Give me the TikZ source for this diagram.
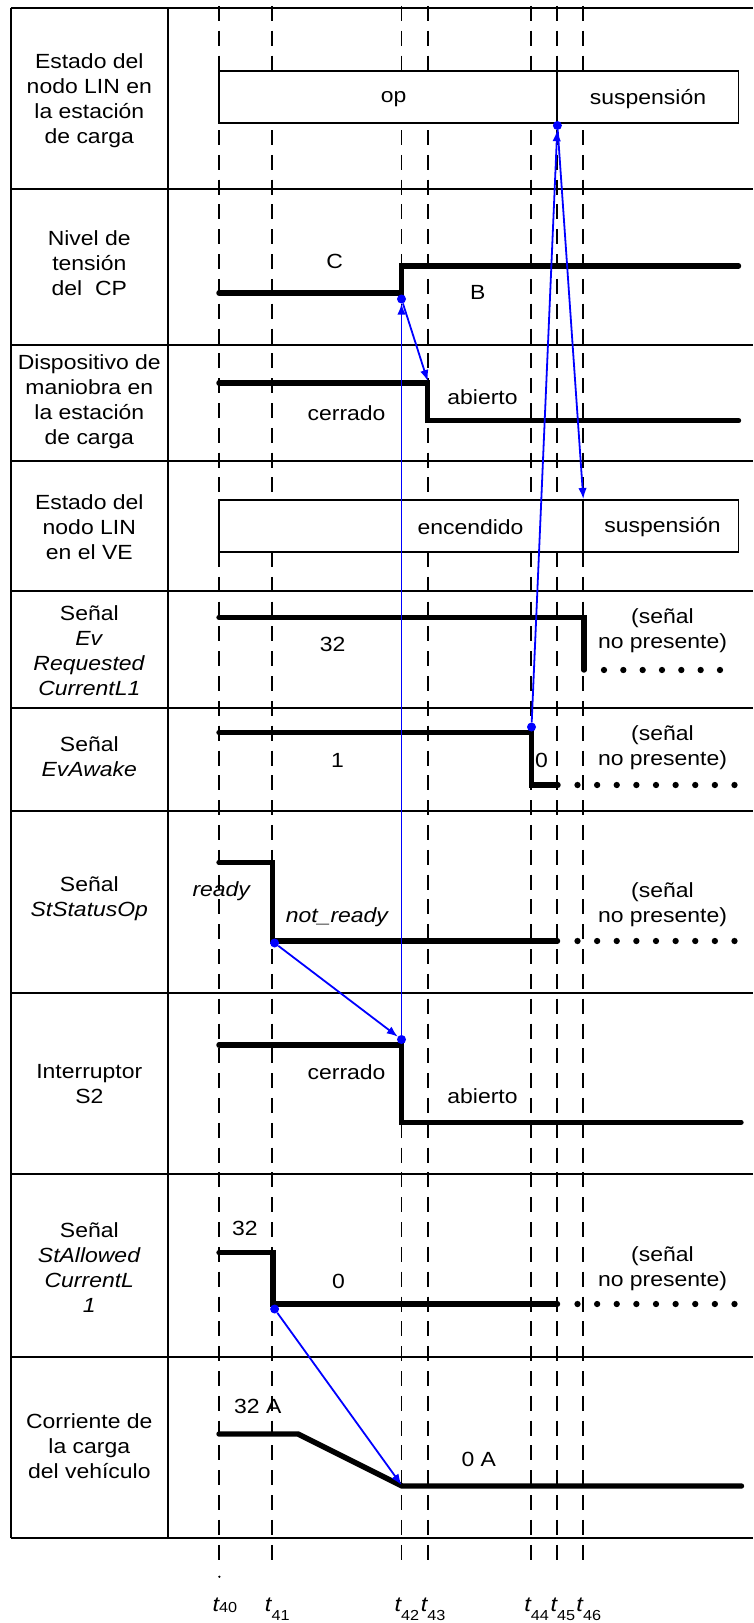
\documentclass[tikz,border=0pt]{standalone}
\usepackage{fontspec}
\setmainfont{Liberation Sans}[FakeStretch=1.12]
\usetikzlibrary{arrows.meta}
\begin{document}
\begin{tikzpicture}[x=1pt,y=-1pt,
  gridline/.style={line width=2pt},
  sig/.style={line width=5.4pt, line cap=round, line join=miter},
  tline/.style={line width=1.9pt, dash pattern=on 15pt off 9.82pt},
  dotsig/.style={line width=6.3pt, line cap=round, dash pattern=on 0pt off #1},
  stbox/.style={line width=1.9pt, fill=white},
  lbl/.style={font=\fontsize{20.5}{25}\selectfont, align=center, inner sep=0pt},
  txt/.style={font=\fontsize{20.5}{25}\selectfont, align=center, inner sep=0pt},
  tlab/.style={font=\fontsize{21}{21}\selectfont, inner sep=0pt, anchor=base west},
  evt/.style={blue, line width=1.8pt, -{Latex[length=11pt,width=8.5pt]}},
  evdot/.style={fill=blue, draw=none, circle, inner sep=0pt, minimum size=9pt},
]
\useasboundingbox (0,0) rectangle (753,1623);
\fill[white] (0,0) rectangle (753,1623);

% grid
\foreach \y in {7.5,189.3,344.5,460.7,590.6,707.7,811.3,992.5,1174.3,1356.7,1537.7}
  \draw[gridline] (10.6,\y) -- (753,\y);
\draw[gridline] (11,7.5) -- (11,1537.7);
\draw[gridline] (167.6,7.5) -- (167.6,1537.7);

% time lines
\foreach \x in {219.4,271.8,401.5,427.7,531.2,557.4,583.3}
  \draw[tline] (\x,5.9) -- (\x,1566);
\fill (219.4,1576.7) circle (1.2);

% state boxes
\draw[stbox] (219,70.7) rectangle (738.5,123.3);
\draw[line width=1.9pt] (557.4,70.7) -- (557.4,123.3);
\draw[stbox] (219,500) rectangle (738.5,551.7);
\draw[line width=1.9pt] (583.3,500) -- (583.3,551.7);

% signals
\draw[sig] (219,293) -- (401.5,293) -- (401.5,266) -- (738.5,266);
\draw[sig] (219,383) -- (427.7,383) -- (427.7,420.7) -- (738.5,420.7);
\draw[sig] (219,617.3) -- (584,617.3) -- (584,670);
\draw[dotsig=19.33pt] (604,670) -- (722,670);
\draw[sig] (219,732.5) -- (531.5,732.5) -- (531.5,785) -- (558,785);
\draw[dotsig=19.625pt] (577.5,785) -- (736,785);
\draw[sig] (219,862.3) -- (272.5,862.3) -- (272.5,941) -- (557.5,941);
\draw[dotsig=19.625pt] (577.5,941) -- (736,941);
\draw[sig] (219,1045) -- (401.5,1045) -- (401.5,1122.3) -- (741,1122.3);
\draw[sig] (219,1252.7) -- (273,1252.7) -- (273,1304) -- (557.5,1304);
\draw[dotsig=19.625pt] (577.5,1304) -- (736,1304);
\draw[sig] (219,1434) -- (298,1434) -- (402,1486) -- (741.5,1486);

% row labels
\node[lbl] (L1) at (89.3,100.3) {Estado del\\nodo LIN en\\la estación\\de carga};
\node[lbl] (L2) at (89.3,263.3) {Nivel de\\tensión\\del\ \ CP};
\node[lbl] (L3) at (89.3,401.3) {Dispositivo de\\maniobra en\\la estación\\de carga};
\node[lbl] (L4) at (89.3,527) {Estado del\\nodo LIN\\en el VE};
\node[lbl] (L5) at (89.3,651) {Señal\\\textit{Ev}\\\textit{Requested}\\\textit{CurrentL1}};
\node[lbl] (L6) at (89.3,757) {Señal\\\textit{EvAwake}};
\node[lbl] (L7) at (89.3,899) {Señal\\\textit{StStatusOp}};
\node[lbl] (L8) at (89.3,1084) {Interruptor\\S2};
\node[lbl] (L9) at (89.3,1268) {Señal\\\textit{StAllowed}\\\textit{CurrentL}\\\textit{1}};
\node[lbl] (L10) at (89.3,1445.7) {Corriente de\\la carga\\del vehículo};

% texts in the plot
\node[txt] (op) at (393.7,99.3) {op};
\node[txt] (susp1) at (648,99.3) {suspensión};
\node[txt] (vC) at (334.6,261.7) {C};
\node[txt] (vB) at (477.7,292.7) {B};
\node[txt] (dab) at (482.5,396.7) {abierto};
\node[txt] (dce) at (346.6,412.7) {cerrado};
\node[txt] (enc) at (470.5,527.3) {encendido};
\node[txt] (susp2) at (662.5,527.3) {suspensión};
\node[txt] (r32) at (332.7,644) {32};
\node[txt] (np1) at (662.5,630.5) {(señal\\no presente)};
\node[txt] (a1) at (337.5,760) {1};
\node[txt] (a0) at (541.5,760) {0};
\node[txt] (np2) at (662.5,747.5) {(señal\\no presente)};
\node[txt] (rdy) at (221.8,890.7) {\textit{ready}};
\node[txt] (nrdy) at (337.5,917.3) {\textit{not\_ready}};
\node[txt] (np3) at (662.5,904.2) {(señal\\no presente)};
\node[txt] (sce) at (346.6,1071.7) {cerrado};
\node[txt] (sab) at (482.5,1096) {abierto};
\node[txt] (al32) at (244.8,1228.3) {32};
\node[txt] (al0) at (338.5,1281) {0};
\node[txt] (np4) at (662.5,1268.8) {(señal\\no presente)};
\node[txt] (c32) at (257.8,1406.7) {32 A};
\node[txt] (c0) at (478.8,1459.3) {0 A};

% time labels
\node[tlab] (t40) at (218.9,1611) {\makebox[0pt][r]{\itshape t}\raisebox{-1pt}{\fontsize{14.5}{14.5}\selectfont 40}};
\node[tlab] (t41) at (271.3,1611) {\makebox[0pt][r]{\itshape t}\raisebox{-9pt}{\fontsize{14.5}{14.5}\selectfont 41}};
\node[tlab] (t42) at (401,1611) {\makebox[0pt][r]{\itshape t}\raisebox{-9pt}{\fontsize{14.5}{14.5}\selectfont 42}};
\node[tlab] (t43) at (427.2,1611) {\makebox[0pt][r]{\itshape t}\raisebox{-9pt}{\fontsize{14.5}{14.5}\selectfont 43}};
\node[tlab] (t44) at (530.7,1611) {\makebox[0pt][r]{\itshape t}\raisebox{-9pt}{\fontsize{14.5}{14.5}\selectfont 44}};
\node[tlab] (t45) at (556.9,1611) {\makebox[0pt][r]{\itshape t}\raisebox{-9pt}{\fontsize{14.5}{14.5}\selectfont 45}};
\node[tlab] (t46) at (582.8,1611) {\makebox[0pt][r]{\itshape t}\raisebox{-9pt}{\fontsize{14.5}{14.5}\selectfont 46}};

% event points
\node[evdot] (dSO) at (274.6,943) {};
\node[evdot] (dS2) at (401.5,1039.5) {};
\node[evdot] (dCP) at (401.5,299) {};
\node[evdot] (dAw) at (531.5,727) {};
\node[evdot] (dOp) at (557.4,125.5) {};
\node[evdot] (dAl) at (274.6,1309) {};
\coordinate (cDisp) at (427.7,381);
\coordinate (cVE) at (583.3,499);
\coordinate (cCur) at (401.5,1485);

% cause-effect arrows
\draw[evt] (dSO) -- (dS2);
\draw[evt] (dS2) -- (dCP);
\draw[evt] (dCP) -- (cDisp);
\draw[evt] (dAw) -- (dOp);
\draw[evt] (dOp) -- (cVE);
\draw[evt] (dAl) -- (cCur);
\end{tikzpicture}
\end{document}
